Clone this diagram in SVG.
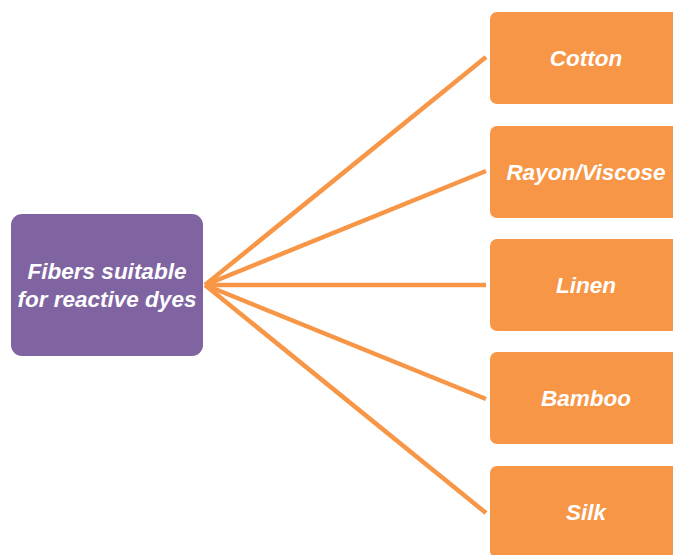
<svg xmlns="http://www.w3.org/2000/svg" width="673" height="555" viewBox="0 0 673 555">
<style>
.t{font-family:"Liberation Sans",Arial,sans-serif;font-weight:bold;font-style:italic;font-size:22.5px;fill:#fff;text-anchor:middle}
.o{fill:#F79646}
.c{stroke:#F79646;stroke-width:4.5;fill:none;stroke-linecap:butt}
</style>
<rect width="673" height="555" fill="#fff"/>
<g id="connectors">
<line class="c" x1="205" y1="285" x2="486" y2="57"/>
<line class="c" x1="205" y1="285" x2="486" y2="171"/>
<line class="c" x1="205" y1="285" x2="486" y2="285"/>
<line class="c" x1="205" y1="285" x2="486" y2="399"/>
<line class="c" x1="205" y1="285" x2="486" y2="513"/>
</g>
<g id="root">
<rect x="11" y="214" width="192" height="142" rx="11" fill="#8064A2"/>
<text class="t" x="107" y="279">Fibers suitable</text>
<text class="t" x="107" y="307">for reactive dyes</text>
</g>
<g id="cotton">
<rect class="o" x="490" y="12" width="192" height="92" rx="7"/>
<text class="t" x="586" y="66">Cotton</text>
</g>
<g id="rayon">
<rect class="o" x="490" y="126" width="192" height="92" rx="7"/>
<text class="t" x="586" y="180">Rayon/Viscose</text>
</g>
<g id="linen">
<rect class="o" x="490" y="239" width="192" height="92" rx="7"/>
<text class="t" x="586" y="293">Linen</text>
</g>
<g id="bamboo">
<rect class="o" x="490" y="352" width="192" height="92" rx="7"/>
<text class="t" x="586" y="406">Bamboo</text>
</g>
<g id="silk">
<rect class="o" x="490" y="466" width="192" height="92" rx="7"/>
<text class="t" x="586" y="520">Silk</text>
</g>
</svg>
